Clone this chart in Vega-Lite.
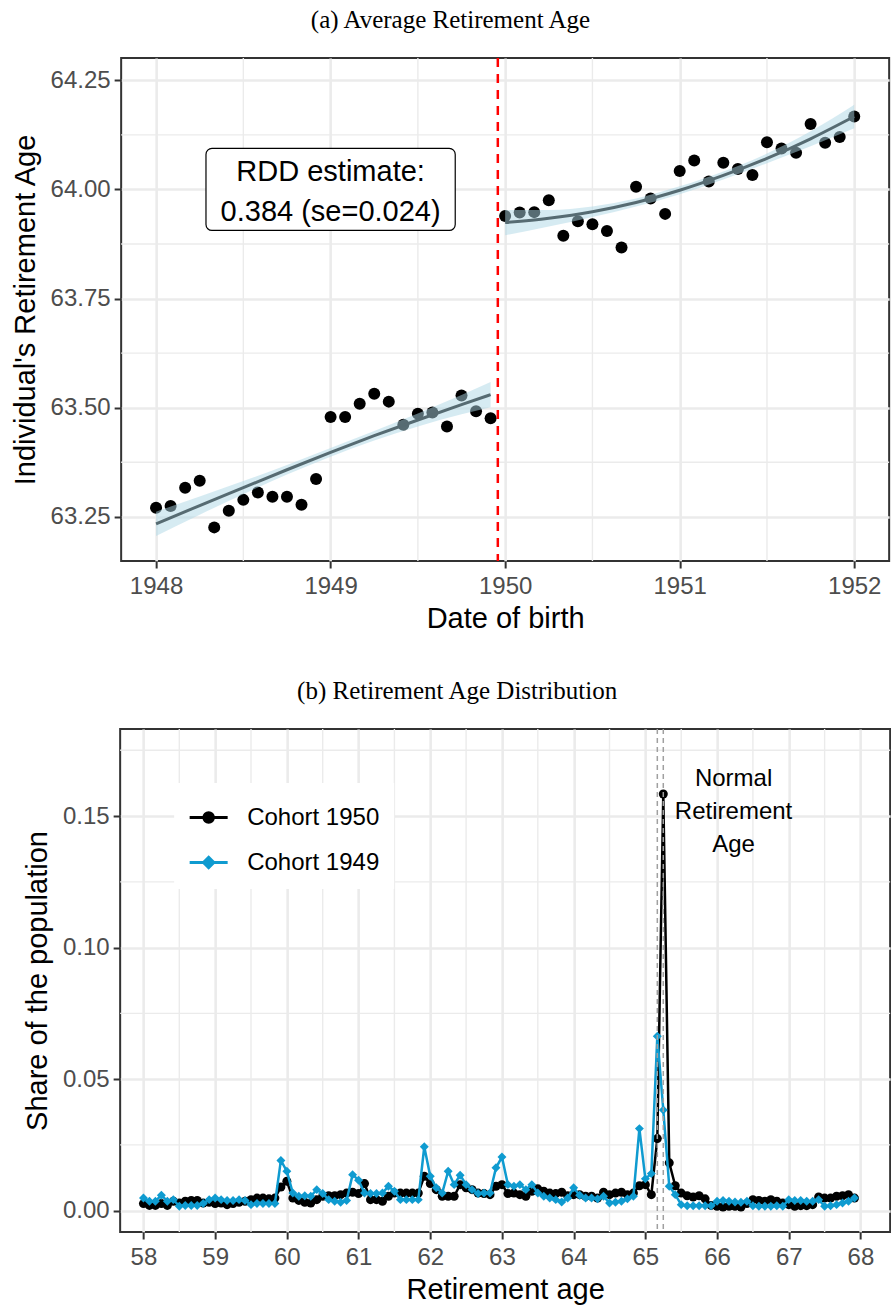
{
  "$schema": "https://vega.github.io/schema/vega-lite/v6.json",
  "background": "white",
  "padding": {"left": 10, "top": 6, "right": 1, "bottom": 4},
  "config": {
    "view": {"stroke": "#333333", "strokeWidth": 2},
    "font": "Liberation Sans",
    "axis": {
      "domain": false,
      "gridColor": "#ebebeb",
      "gridWidth": 2.6,
      "tickColor": "#333333",
      "tickWidth": 2,
      "tickSize": 7,
      "labelFont": "Liberation Sans",
      "labelFontSize": 24,
      "labelColor": "#4d4d4d",
      "labelPadding": 4,
      "labelFlush": false,
      "labelOverlap": false,
      "titleFont": "Liberation Sans",
      "titleFontSize": 29,
      "titleFontWeight": "normal",
      "titleColor": "black"
    },
    "title": {"font": "Liberation Serif", "fontSize": 25, "fontWeight": "normal", "color": "black", "frame": "bounds", "anchor": "middle"}
  },
  "datasets": {
    "rdd_points": [
      {"dob": 1948.0, "age": 63.271}, {"dob": 1948.0833, "age": 63.275}, {"dob": 1948.1667, "age": 63.317},
      {"dob": 1948.25, "age": 63.333}, {"dob": 1948.3333, "age": 63.226}, {"dob": 1948.4167, "age": 63.264},
      {"dob": 1948.5, "age": 63.289}, {"dob": 1948.5833, "age": 63.306}, {"dob": 1948.6667, "age": 63.296},
      {"dob": 1948.75, "age": 63.296}, {"dob": 1948.8333, "age": 63.278}, {"dob": 1948.9167, "age": 63.337},
      {"dob": 1949.0, "age": 63.479}, {"dob": 1949.0833, "age": 63.479}, {"dob": 1949.1667, "age": 63.509},
      {"dob": 1949.25, "age": 63.532}, {"dob": 1949.3333, "age": 63.514}, {"dob": 1949.4167, "age": 63.461},
      {"dob": 1949.5, "age": 63.486}, {"dob": 1949.5833, "age": 63.489}, {"dob": 1949.6667, "age": 63.457},
      {"dob": 1949.75, "age": 63.528}, {"dob": 1949.8333, "age": 63.492}, {"dob": 1949.9167, "age": 63.476},
      {"dob": 1950.0, "age": 63.939}, {"dob": 1950.0833, "age": 63.947}, {"dob": 1950.1667, "age": 63.948},
      {"dob": 1950.25, "age": 63.975}, {"dob": 1950.3333, "age": 63.894}, {"dob": 1950.4167, "age": 63.927},
      {"dob": 1950.5, "age": 63.920}, {"dob": 1950.5833, "age": 63.905}, {"dob": 1950.6667, "age": 63.867},
      {"dob": 1950.75, "age": 64.006}, {"dob": 1950.8333, "age": 63.979}, {"dob": 1950.9167, "age": 63.944},
      {"dob": 1951.0, "age": 64.042}, {"dob": 1951.0833, "age": 64.066}, {"dob": 1951.1667, "age": 64.018},
      {"dob": 1951.25, "age": 64.061}, {"dob": 1951.3333, "age": 64.047}, {"dob": 1951.4167, "age": 64.033},
      {"dob": 1951.5, "age": 64.108}, {"dob": 1951.5833, "age": 64.094}, {"dob": 1951.6667, "age": 64.084},
      {"dob": 1951.75, "age": 64.150}, {"dob": 1951.8333, "age": 64.107}, {"dob": 1951.9167, "age": 64.120},
      {"dob": 1952.0, "age": 64.167}
    ],
    "rdd_fit": [
      {"dob": 1948.0, "fit": 63.234, "lo": 63.206, "hi": 63.262, "side": "before"},
      {"dob": 1948.25, "fit": 63.276, "lo": 63.255, "hi": 63.297, "side": "before"},
      {"dob": 1948.5, "fit": 63.317, "lo": 63.302, "hi": 63.332, "side": "before"},
      {"dob": 1948.75, "fit": 63.358, "lo": 63.347, "hi": 63.369, "side": "before"},
      {"dob": 1949.0, "fit": 63.398, "lo": 63.388, "hi": 63.408, "side": "before"},
      {"dob": 1949.25, "fit": 63.436, "lo": 63.425, "hi": 63.447, "side": "before"},
      {"dob": 1949.5, "fit": 63.472, "lo": 63.457, "hi": 63.487, "side": "before"},
      {"dob": 1949.75, "fit": 63.507, "lo": 63.485, "hi": 63.529, "side": "before"},
      {"dob": 1949.9167, "fit": 63.530, "lo": 63.501, "hi": 63.559, "side": "before"},
      {"dob": 1950.0, "fit": 63.924, "lo": 63.895, "hi": 63.953, "side": "after"},
      {"dob": 1950.25, "fit": 63.934, "lo": 63.915, "hi": 63.953, "side": "after"},
      {"dob": 1950.5, "fit": 63.949, "lo": 63.937, "hi": 63.961, "side": "after"},
      {"dob": 1950.75, "fit": 63.970, "lo": 63.961, "hi": 63.979, "side": "after"},
      {"dob": 1951.0, "fit": 63.998, "lo": 63.989, "hi": 64.007, "side": "after"},
      {"dob": 1951.25, "fit": 64.032, "lo": 64.023, "hi": 64.041, "side": "after"},
      {"dob": 1951.5, "fit": 64.071, "lo": 64.060, "hi": 64.082, "side": "after"},
      {"dob": 1951.75, "fit": 64.116, "lo": 64.099, "hi": 64.133, "side": "after"},
      {"dob": 1952.0, "fit": 64.167, "lo": 64.140, "hi": 64.194, "side": "after"}
    ],
    "dist": [
      {"age": 58, "share": 0.0027, "cohort": "Cohort 1950"}, {"age": 58.0833, "share": 0.0020, "cohort": "Cohort 1950"},
      {"age": 58.1667, "share": 0.0020, "cohort": "Cohort 1950"}, {"age": 58.25, "share": 0.0027, "cohort": "Cohort 1950"},
      {"age": 58.3333, "share": 0.0020, "cohort": "Cohort 1950"}, {"age": 58.4167, "share": 0.0036, "cohort": "Cohort 1950"},
      {"age": 58.5, "share": 0.0029, "cohort": "Cohort 1950"}, {"age": 58.5833, "share": 0.0036, "cohort": "Cohort 1950"},
      {"age": 58.6667, "share": 0.0039, "cohort": "Cohort 1950"}, {"age": 58.75, "share": 0.0039, "cohort": "Cohort 1950"},
      {"age": 58.8333, "share": 0.0029, "cohort": "Cohort 1950"}, {"age": 58.9167, "share": 0.0032, "cohort": "Cohort 1950"},
      {"age": 59, "share": 0.0027, "cohort": "Cohort 1950"}, {"age": 59.0833, "share": 0.0029, "cohort": "Cohort 1950"},
      {"age": 59.1667, "share": 0.0023, "cohort": "Cohort 1950"}, {"age": 59.25, "share": 0.0027, "cohort": "Cohort 1950"},
      {"age": 59.3333, "share": 0.0032, "cohort": "Cohort 1950"}, {"age": 59.4167, "share": 0.0036, "cohort": "Cohort 1950"},
      {"age": 59.5, "share": 0.0042, "cohort": "Cohort 1950"}, {"age": 59.5833, "share": 0.0048, "cohort": "Cohort 1950"},
      {"age": 59.6667, "share": 0.0048, "cohort": "Cohort 1950"}, {"age": 59.75, "share": 0.0045, "cohort": "Cohort 1950"},
      {"age": 59.8333, "share": 0.0048, "cohort": "Cohort 1950"}, {"age": 59.9167, "share": 0.0090, "cohort": "Cohort 1950"},
      {"age": 60, "share": 0.0112, "cohort": "Cohort 1950"}, {"age": 60.0833, "share": 0.0048, "cohort": "Cohort 1950"},
      {"age": 60.1667, "share": 0.0039, "cohort": "Cohort 1950"}, {"age": 60.25, "share": 0.0032, "cohort": "Cohort 1950"},
      {"age": 60.3333, "share": 0.0029, "cohort": "Cohort 1950"}, {"age": 60.4167, "share": 0.0042, "cohort": "Cohort 1950"},
      {"age": 60.5, "share": 0.0055, "cohort": "Cohort 1950"}, {"age": 60.5833, "share": 0.0057, "cohort": "Cohort 1950"},
      {"age": 60.6667, "share": 0.0057, "cohort": "Cohort 1950"}, {"age": 60.75, "share": 0.0061, "cohort": "Cohort 1950"},
      {"age": 60.8333, "share": 0.0067, "cohort": "Cohort 1950"}, {"age": 60.9167, "share": 0.0070, "cohort": "Cohort 1950"},
      {"age": 61, "share": 0.0065, "cohort": "Cohort 1950"}, {"age": 61.0833, "share": 0.0103, "cohort": "Cohort 1950"},
      {"age": 61.1667, "share": 0.0042, "cohort": "Cohort 1950"}, {"age": 61.25, "share": 0.0042, "cohort": "Cohort 1950"},
      {"age": 61.3333, "share": 0.0036, "cohort": "Cohort 1950"}, {"age": 61.4167, "share": 0.0055, "cohort": "Cohort 1950"},
      {"age": 61.5, "share": 0.0067, "cohort": "Cohort 1950"}, {"age": 61.5833, "share": 0.0067, "cohort": "Cohort 1950"},
      {"age": 61.6667, "share": 0.0067, "cohort": "Cohort 1950"}, {"age": 61.75, "share": 0.0067, "cohort": "Cohort 1950"},
      {"age": 61.8333, "share": 0.0067, "cohort": "Cohort 1950"}, {"age": 61.9167, "share": 0.0131, "cohort": "Cohort 1950"},
      {"age": 62, "share": 0.0103, "cohort": "Cohort 1950"}, {"age": 62.0833, "share": 0.0080, "cohort": "Cohort 1950"},
      {"age": 62.1667, "share": 0.0055, "cohort": "Cohort 1950"}, {"age": 62.25, "share": 0.0055, "cohort": "Cohort 1950"},
      {"age": 62.3333, "share": 0.0055, "cohort": "Cohort 1950"}, {"age": 62.4167, "share": 0.0099, "cohort": "Cohort 1950"},
      {"age": 62.5, "share": 0.0087, "cohort": "Cohort 1950"}, {"age": 62.5833, "share": 0.0080, "cohort": "Cohort 1950"},
      {"age": 62.6667, "share": 0.0067, "cohort": "Cohort 1950"}, {"age": 62.75, "share": 0.0065, "cohort": "Cohort 1950"},
      {"age": 62.8333, "share": 0.0061, "cohort": "Cohort 1950"}, {"age": 62.9167, "share": 0.0093, "cohort": "Cohort 1950"},
      {"age": 63, "share": 0.0099, "cohort": "Cohort 1950"}, {"age": 63.0833, "share": 0.0065, "cohort": "Cohort 1950"},
      {"age": 63.1667, "share": 0.0067, "cohort": "Cohort 1950"}, {"age": 63.25, "share": 0.0061, "cohort": "Cohort 1950"},
      {"age": 63.3333, "share": 0.0055, "cohort": "Cohort 1950"}, {"age": 63.4167, "share": 0.0074, "cohort": "Cohort 1950"},
      {"age": 63.5, "share": 0.0083, "cohort": "Cohort 1950"}, {"age": 63.5833, "share": 0.0074, "cohort": "Cohort 1950"},
      {"age": 63.6667, "share": 0.0067, "cohort": "Cohort 1950"}, {"age": 63.75, "share": 0.0065, "cohort": "Cohort 1950"},
      {"age": 63.8333, "share": 0.0070, "cohort": "Cohort 1950"}, {"age": 63.9167, "share": 0.0057, "cohort": "Cohort 1950"},
      {"age": 64, "share": 0.0061, "cohort": "Cohort 1950"}, {"age": 64.0833, "share": 0.0061, "cohort": "Cohort 1950"},
      {"age": 64.1667, "share": 0.0055, "cohort": "Cohort 1950"}, {"age": 64.25, "share": 0.0055, "cohort": "Cohort 1950"},
      {"age": 64.3333, "share": 0.0048, "cohort": "Cohort 1950"}, {"age": 64.4167, "share": 0.0070, "cohort": "Cohort 1950"},
      {"age": 64.5, "share": 0.0061, "cohort": "Cohort 1950"}, {"age": 64.5833, "share": 0.0067, "cohort": "Cohort 1950"},
      {"age": 64.6667, "share": 0.0070, "cohort": "Cohort 1950"}, {"age": 64.75, "share": 0.0061, "cohort": "Cohort 1950"},
      {"age": 64.8333, "share": 0.0067, "cohort": "Cohort 1950"}, {"age": 64.9167, "share": 0.0095, "cohort": "Cohort 1950"},
      {"age": 65, "share": 0.0099, "cohort": "Cohort 1950"}, {"age": 65.0833, "share": 0.0061, "cohort": "Cohort 1950"},
      {"age": 65.1667, "share": 0.0274, "cohort": "Cohort 1950"}, {"age": 65.25, "share": 0.1584, "cohort": "Cohort 1950"},
      {"age": 65.3333, "share": 0.0182, "cohort": "Cohort 1950"}, {"age": 65.4167, "share": 0.0095, "cohort": "Cohort 1950"},
      {"age": 65.5, "share": 0.0067, "cohort": "Cohort 1950"}, {"age": 65.5833, "share": 0.0057, "cohort": "Cohort 1950"},
      {"age": 65.6667, "share": 0.0052, "cohort": "Cohort 1950"}, {"age": 65.75, "share": 0.0057, "cohort": "Cohort 1950"},
      {"age": 65.8333, "share": 0.0045, "cohort": "Cohort 1950"}, {"age": 65.9167, "share": 0.0020, "cohort": "Cohort 1950"},
      {"age": 66, "share": 0.0017, "cohort": "Cohort 1950"}, {"age": 66.0833, "share": 0.0014, "cohort": "Cohort 1950"},
      {"age": 66.1667, "share": 0.0017, "cohort": "Cohort 1950"}, {"age": 66.25, "share": 0.0017, "cohort": "Cohort 1950"},
      {"age": 66.3333, "share": 0.0014, "cohort": "Cohort 1950"}, {"age": 66.4167, "share": 0.0027, "cohort": "Cohort 1950"},
      {"age": 66.5, "share": 0.0042, "cohort": "Cohort 1950"}, {"age": 66.5833, "share": 0.0039, "cohort": "Cohort 1950"},
      {"age": 66.6667, "share": 0.0036, "cohort": "Cohort 1950"}, {"age": 66.75, "share": 0.0042, "cohort": "Cohort 1950"},
      {"age": 66.8333, "share": 0.0036, "cohort": "Cohort 1950"}, {"age": 66.9167, "share": 0.0029, "cohort": "Cohort 1950"},
      {"age": 67, "share": 0.0023, "cohort": "Cohort 1950"}, {"age": 67.0833, "share": 0.0017, "cohort": "Cohort 1950"},
      {"age": 67.1667, "share": 0.0019, "cohort": "Cohort 1950"}, {"age": 67.25, "share": 0.0019, "cohort": "Cohort 1950"},
      {"age": 67.3333, "share": 0.0023, "cohort": "Cohort 1950"}, {"age": 67.4167, "share": 0.0052, "cohort": "Cohort 1950"},
      {"age": 67.5, "share": 0.0048, "cohort": "Cohort 1950"}, {"age": 67.5833, "share": 0.0048, "cohort": "Cohort 1950"},
      {"age": 67.6667, "share": 0.0055, "cohort": "Cohort 1950"}, {"age": 67.75, "share": 0.0057, "cohort": "Cohort 1950"},
      {"age": 67.8333, "share": 0.0061, "cohort": "Cohort 1950"}, {"age": 67.9167, "share": 0.0048, "cohort": "Cohort 1950"},
      {"age": 58, "share": 0.0048, "cohort": "Cohort 1949"}, {"age": 58.0833, "share": 0.0036, "cohort": "Cohort 1949"},
      {"age": 58.1667, "share": 0.0036, "cohort": "Cohort 1949"}, {"age": 58.25, "share": 0.0059, "cohort": "Cohort 1949"},
      {"age": 58.3333, "share": 0.0036, "cohort": "Cohort 1949"}, {"age": 58.4167, "share": 0.0042, "cohort": "Cohort 1949"},
      {"age": 58.5, "share": 0.0017, "cohort": "Cohort 1949"}, {"age": 58.5833, "share": 0.0020, "cohort": "Cohort 1949"},
      {"age": 58.6667, "share": 0.0020, "cohort": "Cohort 1949"}, {"age": 58.75, "share": 0.0020, "cohort": "Cohort 1949"},
      {"age": 58.8333, "share": 0.0027, "cohort": "Cohort 1949"}, {"age": 58.9167, "share": 0.0042, "cohort": "Cohort 1949"},
      {"age": 59, "share": 0.0048, "cohort": "Cohort 1949"}, {"age": 59.0833, "share": 0.0042, "cohort": "Cohort 1949"},
      {"age": 59.1667, "share": 0.0039, "cohort": "Cohort 1949"}, {"age": 59.25, "share": 0.0039, "cohort": "Cohort 1949"},
      {"age": 59.3333, "share": 0.0042, "cohort": "Cohort 1949"}, {"age": 59.4167, "share": 0.0039, "cohort": "Cohort 1949"},
      {"age": 59.5, "share": 0.0023, "cohort": "Cohort 1949"}, {"age": 59.5833, "share": 0.0027, "cohort": "Cohort 1949"},
      {"age": 59.6667, "share": 0.0027, "cohort": "Cohort 1949"}, {"age": 59.75, "share": 0.0027, "cohort": "Cohort 1949"},
      {"age": 59.8333, "share": 0.0027, "cohort": "Cohort 1949"}, {"age": 59.9167, "share": 0.0191, "cohort": "Cohort 1949"},
      {"age": 60, "share": 0.0150, "cohort": "Cohort 1949"}, {"age": 60.0833, "share": 0.0067, "cohort": "Cohort 1949"},
      {"age": 60.1667, "share": 0.0055, "cohort": "Cohort 1949"}, {"age": 60.25, "share": 0.0057, "cohort": "Cohort 1949"},
      {"age": 60.3333, "share": 0.0055, "cohort": "Cohort 1949"}, {"age": 60.4167, "share": 0.0080, "cohort": "Cohort 1949"},
      {"age": 60.5, "share": 0.0065, "cohort": "Cohort 1949"}, {"age": 60.5833, "share": 0.0042, "cohort": "Cohort 1949"},
      {"age": 60.6667, "share": 0.0036, "cohort": "Cohort 1949"}, {"age": 60.75, "share": 0.0032, "cohort": "Cohort 1949"},
      {"age": 60.8333, "share": 0.0039, "cohort": "Cohort 1949"}, {"age": 60.9167, "share": 0.0137, "cohort": "Cohort 1949"},
      {"age": 61, "share": 0.0116, "cohort": "Cohort 1949"}, {"age": 61.0833, "share": 0.0067, "cohort": "Cohort 1949"},
      {"age": 61.1667, "share": 0.0065, "cohort": "Cohort 1949"}, {"age": 61.25, "share": 0.0065, "cohort": "Cohort 1949"},
      {"age": 61.3333, "share": 0.0067, "cohort": "Cohort 1949"}, {"age": 61.4167, "share": 0.0093, "cohort": "Cohort 1949"},
      {"age": 61.5, "share": 0.0074, "cohort": "Cohort 1949"}, {"age": 61.5833, "share": 0.0042, "cohort": "Cohort 1949"},
      {"age": 61.6667, "share": 0.0042, "cohort": "Cohort 1949"}, {"age": 61.75, "share": 0.0042, "cohort": "Cohort 1949"},
      {"age": 61.8333, "share": 0.0042, "cohort": "Cohort 1949"}, {"age": 61.9167, "share": 0.0243, "cohort": "Cohort 1949"},
      {"age": 62, "share": 0.0131, "cohort": "Cohort 1949"}, {"age": 62.0833, "share": 0.0087, "cohort": "Cohort 1949"},
      {"age": 62.1667, "share": 0.0067, "cohort": "Cohort 1949"}, {"age": 62.25, "share": 0.0150, "cohort": "Cohort 1949"},
      {"age": 62.3333, "share": 0.0099, "cohort": "Cohort 1949"}, {"age": 62.4167, "share": 0.0135, "cohort": "Cohort 1949"},
      {"age": 62.5, "share": 0.0099, "cohort": "Cohort 1949"}, {"age": 62.5833, "share": 0.0080, "cohort": "Cohort 1949"},
      {"age": 62.6667, "share": 0.0065, "cohort": "Cohort 1949"}, {"age": 62.75, "share": 0.0067, "cohort": "Cohort 1949"},
      {"age": 62.8333, "share": 0.0067, "cohort": "Cohort 1949"}, {"age": 62.9167, "share": 0.0163, "cohort": "Cohort 1949"},
      {"age": 63, "share": 0.0204, "cohort": "Cohort 1949"}, {"age": 63.0833, "share": 0.0099, "cohort": "Cohort 1949"},
      {"age": 63.1667, "share": 0.0093, "cohort": "Cohort 1949"}, {"age": 63.25, "share": 0.0099, "cohort": "Cohort 1949"},
      {"age": 63.3333, "share": 0.0080, "cohort": "Cohort 1949"}, {"age": 63.4167, "share": 0.0099, "cohort": "Cohort 1949"},
      {"age": 63.5, "share": 0.0067, "cohort": "Cohort 1949"}, {"age": 63.5833, "share": 0.0055, "cohort": "Cohort 1949"},
      {"age": 63.6667, "share": 0.0048, "cohort": "Cohort 1949"}, {"age": 63.75, "share": 0.0042, "cohort": "Cohort 1949"},
      {"age": 63.8333, "share": 0.0033, "cohort": "Cohort 1949"}, {"age": 63.9167, "share": 0.0048, "cohort": "Cohort 1949"},
      {"age": 64, "share": 0.0087, "cohort": "Cohort 1949"}, {"age": 64.0833, "share": 0.0059, "cohort": "Cohort 1949"},
      {"age": 64.1667, "share": 0.0048, "cohort": "Cohort 1949"}, {"age": 64.25, "share": 0.0048, "cohort": "Cohort 1949"},
      {"age": 64.3333, "share": 0.0045, "cohort": "Cohort 1949"}, {"age": 64.4167, "share": 0.0055, "cohort": "Cohort 1949"},
      {"age": 64.5, "share": 0.0029, "cohort": "Cohort 1949"}, {"age": 64.5833, "share": 0.0032, "cohort": "Cohort 1949"},
      {"age": 64.6667, "share": 0.0036, "cohort": "Cohort 1949"}, {"age": 64.75, "share": 0.0045, "cohort": "Cohort 1949"},
      {"age": 64.8333, "share": 0.0055, "cohort": "Cohort 1949"}, {"age": 64.9167, "share": 0.0312, "cohort": "Cohort 1949"},
      {"age": 65, "share": 0.0121, "cohort": "Cohort 1949"}, {"age": 65.0833, "share": 0.0141, "cohort": "Cohort 1949"},
      {"age": 65.1667, "share": 0.0663, "cohort": "Cohort 1949"}, {"age": 65.25, "share": 0.0383, "cohort": "Cohort 1949"},
      {"age": 65.3333, "share": 0.0093, "cohort": "Cohort 1949"}, {"age": 65.4167, "share": 0.0061, "cohort": "Cohort 1949"},
      {"age": 65.5, "share": 0.0023, "cohort": "Cohort 1949"}, {"age": 65.5833, "share": 0.0019, "cohort": "Cohort 1949"},
      {"age": 65.6667, "share": 0.0019, "cohort": "Cohort 1949"}, {"age": 65.75, "share": 0.0019, "cohort": "Cohort 1949"},
      {"age": 65.8333, "share": 0.0019, "cohort": "Cohort 1949"}, {"age": 65.9167, "share": 0.0019, "cohort": "Cohort 1949"},
      {"age": 66, "share": 0.0036, "cohort": "Cohort 1949"}, {"age": 66.0833, "share": 0.0039, "cohort": "Cohort 1949"},
      {"age": 66.1667, "share": 0.0036, "cohort": "Cohort 1949"}, {"age": 66.25, "share": 0.0033, "cohort": "Cohort 1949"},
      {"age": 66.3333, "share": 0.0032, "cohort": "Cohort 1949"}, {"age": 66.4167, "share": 0.0036, "cohort": "Cohort 1949"},
      {"age": 66.5, "share": 0.0019, "cohort": "Cohort 1949"}, {"age": 66.5833, "share": 0.0017, "cohort": "Cohort 1949"},
      {"age": 66.6667, "share": 0.0017, "cohort": "Cohort 1949"}, {"age": 66.75, "share": 0.0017, "cohort": "Cohort 1949"},
      {"age": 66.8333, "share": 0.0019, "cohort": "Cohort 1949"}, {"age": 66.9167, "share": 0.0017, "cohort": "Cohort 1949"},
      {"age": 67, "share": 0.0042, "cohort": "Cohort 1949"}, {"age": 67.0833, "share": 0.0039, "cohort": "Cohort 1949"},
      {"age": 67.1667, "share": 0.0039, "cohort": "Cohort 1949"}, {"age": 67.25, "share": 0.0036, "cohort": "Cohort 1949"},
      {"age": 67.3333, "share": 0.0036, "cohort": "Cohort 1949"}, {"age": 67.4167, "share": 0.0042, "cohort": "Cohort 1949"},
      {"age": 67.5, "share": 0.0017, "cohort": "Cohort 1949"}, {"age": 67.5833, "share": 0.0019, "cohort": "Cohort 1949"},
      {"age": 67.6667, "share": 0.0023, "cohort": "Cohort 1949"}, {"age": 67.75, "share": 0.0029, "cohort": "Cohort 1949"},
      {"age": 67.8333, "share": 0.0036, "cohort": "Cohort 1949"}, {"age": 67.9167, "share": 0.0048, "cohort": "Cohort 1949"}
    ]
  },
  "columns": 1,
  "center": true,
  "spacing": 44,
  "resolve": {"scale": {"color": "independent"}, "legend": {"color": "independent"}},
  "concat": [
    {
      "width": 768,
      "height": 503,
      "title": {"text": "(a) Average Retirement Age", "offset": 24},
      "encoding": {
        "x": {
          "type": "quantitative", "title": "Date of birth",
          "scale": {"domain": [1947.8, 1952.2], "nice": false, "zero": false},
          "axis": {"values": [1948, 1949, 1950, 1951, 1952], "format": "d", "labelPadding": 6, "titlePadding": 6}
        },
        "y": {
          "type": "quantitative", "title": "Individual's Retirement Age",
          "scale": {"domain": [63.149, 64.301], "nice": false, "zero": false},
          "axis": {"values": [63.25, 63.5, 63.75, 64, 64.25], "format": ".2f", "titlePadding": 10}
        }
      },
      "layer": [
        {
          "data": {"values": [{"v": 1948.5}, {"v": 1949.5}, {"v": 1950.5}, {"v": 1951.5}]},
          "mark": {"type": "rule", "color": "#ebebeb", "strokeWidth": 1.4},
          "encoding": {"x": {"field": "v"}}
        },
        {
          "data": {"values": [{"v": 63.375}, {"v": 63.625}, {"v": 63.875}, {"v": 64.125}]},
          "mark": {"type": "rule", "color": "#ebebeb", "strokeWidth": 1.4},
          "encoding": {"y": {"field": "v"}}
        },
        {
          "data": {"name": "rdd_points"},
          "mark": {"type": "circle", "size": 144, "color": "black", "opacity": 1},
          "encoding": {"x": {"field": "dob"}, "y": {"field": "age"}}
        },
        {
          "data": {"name": "rdd_fit"},
          "mark": {"type": "area", "color": "#add8e6", "opacity": 0.5, "interpolate": "monotone"},
          "encoding": {"x": {"field": "dob"}, "y": {"field": "lo"}, "y2": {"field": "hi"}, "detail": {"field": "side"}}
        },
        {
          "data": {"name": "rdd_fit"},
          "mark": {"type": "line", "color": "#566b72", "strokeWidth": 3, "interpolate": "monotone"},
          "encoding": {"x": {"field": "dob"}, "y": {"field": "fit"}, "detail": {"field": "side"}}
        },
        {
          "data": {"values": [{"dob": 1949.958}]},
          "mark": {"type": "rule", "color": "#ff0000", "strokeWidth": 2.5, "strokeDash": [9, 7]},
          "encoding": {"x": {"field": "dob"}}
        },
        {
          "data": {"values": [{"x1": 1948.286, "x2": 1949.714, "y1": 63.906, "y2": 64.094}]},
          "mark": {"type": "rect", "fill": "white", "stroke": "black", "strokeWidth": 1.2, "cornerRadius": 6},
          "encoding": {"x": {"field": "x1"}, "x2": {"field": "x2"}, "y": {"field": "y1"}, "y2": {"field": "y2"}}
        },
        {
          "data": {"values": [{"dob": 1949.0, "age": 64.041, "label": ["RDD estimate:", " 0.384 (se=0.024)"]}]},
          "mark": {"type": "text", "fontSize": 29, "lineHeight": 40, "color": "black", "align": "center", "baseline": "middle", "font": "Liberation Sans"},
          "encoding": {"x": {"field": "dob"}, "y": {"field": "age"}, "text": {"field": "label", "type": "nominal"}}
        }
      ]
    },
    {
      "width": 770,
      "height": 503,
      "title": {"text": "(b) Retirement Age Distribution", "offset": 24},
      "encoding": {
        "x": {
          "type": "quantitative", "title": "Retirement age",
          "scale": {"domain": [57.675, 68.414], "nice": false, "zero": false},
          "axis": {"values": [58, 59, 60, 61, 62, 63, 64, 65, 66, 67, 68], "format": "d", "labelPadding": 6, "titlePadding": 6}
        },
        "y": {
          "type": "quantitative", "title": "Share of the population",
          "scale": {"domain": [-0.0081, 0.1831], "nice": false, "zero": false},
          "axis": {"values": [0, 0.05, 0.1, 0.15], "format": ".2f", "titlePadding": 10}
        }
      },
      "layer": [
        {
          "data": {"values": [{"v": 58.5}, {"v": 59.5}, {"v": 60.5}, {"v": 61.5}, {"v": 62.5}, {"v": 63.5}, {"v": 64.5}, {"v": 65.5}, {"v": 66.5}, {"v": 67.5}]},
          "mark": {"type": "rule", "color": "#ebebeb", "strokeWidth": 1.4},
          "encoding": {"x": {"field": "v"}}
        },
        {
          "data": {"values": [{"v": 0.025}, {"v": 0.075}, {"v": 0.125}, {"v": 0.175}]},
          "mark": {"type": "rule", "color": "#ebebeb", "strokeWidth": 1.4},
          "encoding": {"y": {"field": "v"}}
        },
        {
          "data": {"name": "dist"},
          "transform": [{"filter": "datum.cohort == 'Cohort 1950'"}],
          "mark": {"type": "line", "strokeWidth": 2.5, "point": {"filled": true, "size": 81, "shape": "circle"}},
          "encoding": {
            "x": {"field": "age"},
            "y": {"field": "share"},
            "color": {
              "field": "cohort", "type": "nominal",
              "scale": {"domain": ["Cohort 1950", "Cohort 1949"], "range": ["black", "#0f9bd0"]},
              "legend": {
                "title": null, "orient": "none", "legendX": 54, "legendY": 54,
                "fillColor": "white", "padding": 14,
                "labelFont": "Liberation Sans", "labelFontSize": 24, "labelColor": "black",
                "labelOffset": 18, "rowPadding": 12, "symbolSize": 1444, "symbolStrokeWidth": 3,
                "encode": {
                  "symbols": {
                    "update": {
                      "shape": {"signal": "datum.value == 'Cohort 1950' ? 'M-1,0H1M0.25,0A0.25,0.25,0,1,1,-0.25,0A0.25,0.25,0,1,1,0.25,0Z' : 'M-1,0H1M0,-0.27L0.27,0L0,0.27L-0.27,0Z'"},
                      "fill": {"signal": "datum.value == 'Cohort 1950' ? 'black' : '#0f9bd0'"},
                      "stroke": {"signal": "datum.value == 'Cohort 1950' ? 'black' : '#0f9bd0'"},
                      "strokeWidth": {"value": 3},
                      "opacity": {"value": 1}
                    }
                  }
                }
              }
            }
          }
        },
        {
          "data": {"name": "dist"},
          "transform": [{"filter": "datum.cohort == 'Cohort 1949'"}],
          "mark": {"type": "line", "strokeWidth": 2.5, "point": {"filled": true, "size": 80, "shape": "diamond"}},
          "encoding": {
            "x": {"field": "age"},
            "y": {"field": "share"},
            "color": {
              "field": "cohort", "type": "nominal",
              "scale": {"domain": ["Cohort 1950", "Cohort 1949"], "range": ["black", "#0f9bd0"]}
            }
          }
        },
        {
          "data": {"values": [{"age": 66.23, "share": 0.1641, "label": ["Normal", "Retirement", "Age"]}]},
          "mark": {"type": "text", "fontSize": 24, "lineHeight": 33, "color": "black", "align": "center", "baseline": "middle", "font": "Liberation Sans"},
          "encoding": {"x": {"field": "age"}, "y": {"field": "share"}, "text": {"field": "label", "type": "nominal"}}
        },
        {
          "data": {"values": [{"age": 65.1667}, {"age": 65.25}]},
          "mark": {"type": "rule", "color": "#a0a0a0", "strokeWidth": 1.5, "strokeDash": [5, 4]},
          "encoding": {"x": {"field": "age"}}
        }
      ]
    }
  ]
}
